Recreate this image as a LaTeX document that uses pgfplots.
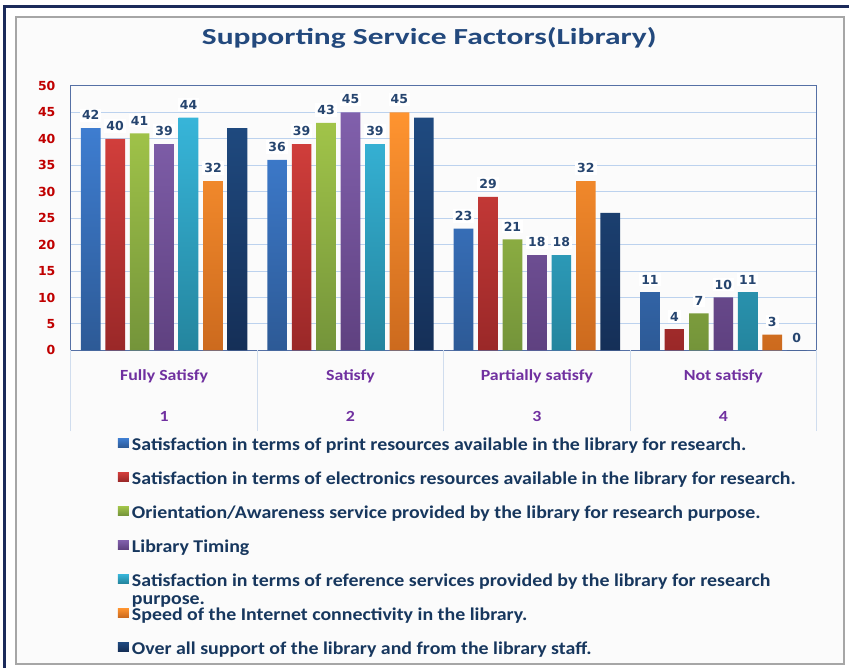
\documentclass[border=0pt]{standalone}
\usepackage{fontspec}
\usepackage{pgfplots}
\pgfplotsset{compat=1.18}
\setmainfont{Carlito}
\newfontfamily\titlefont{Carlito}[FakeStretch=1.37]
\newfontfamily\legfont{Carlito}[FakeStretch=1.107]
\newfontfamily\catfont{Carlito}[FakeStretch=1.155]
\newfontfamily\numfont{DejaVu Sans}
\definecolor{titlec}{HTML}{23497D}
\definecolor{tickred}{HTML}{C00000}
\definecolor{catpurple}{HTML}{7030A0}
\definecolor{legc}{HTML}{17375E}
\definecolor{lblc}{HTML}{26456F}
\definecolor{gridc}{HTML}{BCD2EE}
\definecolor{axisc}{HTML}{5570A5}
\definecolor{sepc}{HTML}{D0DDEE}
\definecolor{bgc}{HTML}{FBFBFB}
\definecolor{frameg}{HTML}{A6A6A6}
\definecolor{framen}{HTML}{1B2A5A}
\definecolor{bluet}{HTML}{3E7DD0}\definecolor{blueb}{HTML}{2D5A96}
\definecolor{redt}{HTML}{D13E3B}\definecolor{redb}{HTML}{9A2828}
\definecolor{greent}{HTML}{A1C449}\definecolor{greenb}{HTML}{74943A}
\definecolor{purpt}{HTML}{8160AC}\definecolor{purpb}{HTML}{5F4180}
\definecolor{cyant}{HTML}{37B5D9}\definecolor{cyanb}{HTML}{24859E}
\definecolor{oranget}{HTML}{FF9430}\definecolor{orangeb}{HTML}{CC6A1E}
\definecolor{navyt}{HTML}{1F4A80}\definecolor{navyb}{HTML}{152F57}
\begin{document}
\begin{tikzpicture}[x=1pt,y=1pt]
\fill[white] (0,0) rectangle (850,669);
\fill[bgc] (16,4) rectangle (845,652);
\draw[frameg, line width=2] (16,4) rectangle (845,652);
\draw[framen, line width=3] (5,0) -- (5,662) -- (850,662);
\node[text=titlec, font=\titlefont\bfseries\fontsize{23}{27}\selectfont] at (430,631) {Supporting Service Factors(Library)};
\begin{axis}[
  at={(71pt,318pt)}, anchor=south west,
  scale only axis, width=747pt, height=265pt,
  xmin=-0.5, xmax=3.5, ymin=0, ymax=50,
  ybar, bar width=0.1055,
  ytick={0,5,...,50},
  xtick={0,1,2,3},
  xtick pos=left,
  xticklabels={{Fully Satisfy\\1},{Satisfy\\2},{Partially satisfy\\3},{Not satisfy\\4}},
  xticklabel style={align=center, font=\catfont\bfseries\fontsize{15.5}{41}\selectfont, text=catpurple, anchor=north, yshift=-16pt},
  yticklabel style={font=\numfont\bfseries\fontsize{12.5}{15}\selectfont, text=tickred, xshift=-12pt},
  /pgf/number format/assume math mode=true,
  major tick length=0pt,
  ymajorgrids, grid style={gridc, line width=1pt},
  axis line style={axisc, line width=1pt},
  extra x ticks={-0.5,0.5,1.5,2.5,3.5}, extra x tick labels={},
  extra x tick style={major tick length=81pt, tick align=outside, xtick pos=left, tick style={sepc, line width=1pt}, grid=none},
  nodes near coords,
  every node near coord/.append style={font=\numfont\bfseries\fontsize{12.5}{15}\selectfont, text=lblc, anchor=south, yshift=6pt, fill=white, inner sep=2pt},
  legend style={at={(axis description cs:0.0629,-0.3302)}, anchor=north west, draw=none, fill=none, inner sep=0pt, row sep=17pt,
    font=\legfont\bfseries\fontsize{18}{18}\selectfont, text=legc,
    nodes={text height=13pt, text depth=4pt, inner sep=0pt},
    /tikz/every odd column/.append style={column sep=3pt}},
  legend cell align=left,
  legend image code/.code={\fill[#1] (0pt,-1pt) rectangle (11pt,8pt);},
]
\addplot[bar shift=-0.3936, draw=none, top color=bluet, bottom color=blueb] coordinates {(0,42) (1,36) (2,23) (3,11)};
\addplot[bar shift=-0.2624, draw=none, top color=redt, bottom color=redb] coordinates {(0,40) (1,39) (2,29) (3,4)};
\addplot[bar shift=-0.1312, draw=none, top color=greent, bottom color=greenb] coordinates {(0,41) (1,43) (2,21) (3,7)};
\addplot[bar shift=0, draw=none, top color=purpt, bottom color=purpb] coordinates {(0,39) (1,45) (2,18) (3,10)};
\addplot[bar shift=0.1312, draw=none, top color=cyant, bottom color=cyanb] coordinates {(0,44) (1,39) (2,18) (3,11)};
\addplot[bar shift=0.2624, draw=none, top color=oranget, bottom color=orangeb] coordinates {(0,32) (1,45) (2,32) (3,3)};
\addplot[bar shift=0.3936, draw=none, top color=navyt, bottom color=navyb,
  point meta=explicit symbolic, nodes near coords={\pgfplotspointmeta},
  every node near coord/.append style={fill=none}] coordinates {(0,42) [] (1,44) [] (2,26) [] (3,0) [0]};
\legend{Satisfaction in terms of print resources available in the library for research.,
Satisfaction in terms of electronics resources available in the library for research.,
Orientation/Awareness service provided by the library for research purpose.,
Library Timing,
{\smash{\begin{tabular}[t]{@{}l@{}}Satisfaction in terms of reference services provided by the library for research\\purpose.\end{tabular}}},
Speed of the Internet connectivity in the library.,
Over all support of the library and from the library staff.}
\end{axis}
\end{tikzpicture}
\end{document}
